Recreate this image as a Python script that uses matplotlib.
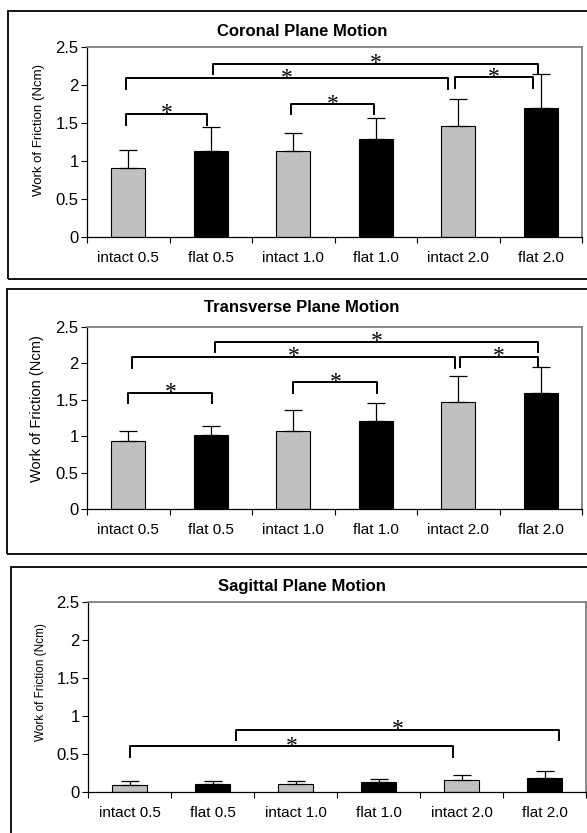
import numpy as np
import matplotlib
matplotlib.use("Agg")
import matplotlib.pyplot as plt
from matplotlib.patches import Rectangle

plt.rcParams['font.family'] = ['Liberation Sans', 'DejaVu Sans']

categories = ['intact 0.5', 'flat 0.5', 'intact 1.0', 'flat 1.0', 'intact 2.0', 'flat 2.0']
bar_colors = ['#c0c0c0', 'black', '#c0c0c0', 'black', '#c0c0c0', 'black']

coronal_mean = [0.91, 1.13, 1.13, 1.29, 1.46, 1.70]
coronal_sd = [0.24, 0.32, 0.24, 0.28, 0.35, 0.44]
transverse_mean = [0.94, 1.02, 1.07, 1.21, 1.47, 1.59]
transverse_sd = [0.135, 0.12, 0.29, 0.24, 0.36, 0.36]
sagittal_mean = [0.087, 0.105, 0.105, 0.13, 0.157, 0.19]
sagittal_sd = [0.058, 0.04, 0.04, 0.04, 0.063, 0.085]

# significance brackets: (left x, right x, bar height, leg bottom)
coronal_sig = [(-0.03, 0.96, 1.62, 1.48), (1.97, 2.98, 1.75, 1.62),
               (-0.03, 3.88, 2.09, 1.95), (3.96, 4.90, 2.10, 1.96),
               (1.03, 4.97, 2.28, 2.15)]
transverse_sig = [(0.0, 1.02, 1.60, 1.45), (2.0, 3.02, 1.74, 1.60),
                  (0.05, 3.96, 2.09, 1.94), (4.02, 4.97, 2.09, 1.95),
                  (1.05, 4.97, 2.30, 2.16)]
sagittal_sig = [(0.0, 3.90, 0.60, 0.46), (1.28, 5.18, 0.82, 0.68)]

W, H = 587, 833
fig = plt.figure(figsize=(W / 100, H / 100), dpi=100)


def box(left, top, right, bottom):
    fig.patches.append(Rectangle((left / W, 1 - bottom / H), (right - left) / W,
                                 (bottom - top) / H, transform=fig.transFigure,
                                 fill=False, ec='black', lw=1.3))


def panel(rect, title, title_y, means, sds, sig, ylab_xy, ylab_size):
    left, top, right, bottom = rect
    ax = fig.add_axes([left / W, 1 - bottom / H, (right - left) / W, (bottom - top) / H])
    x = np.arange(len(categories))
    ax.bar(x, means, width=0.41, color=bar_colors, edgecolor='black', linewidth=0.8, zorder=2)
    ax.errorbar(x, means, yerr=[np.zeros(len(x)), sds], fmt='none', ecolor='black',
                elinewidth=0.9, capsize=6.5, capthick=0.9, zorder=3)
    for xl, xr, yt, yl in sig:
        ax.plot([xl, xl, xr, xr], [yl, yt, yt, yl], color='black', lw=1.4,
                clip_on=False, zorder=4)
        ax.annotate('*', xy=((xl + xr) / 2, yt), xytext=(0, -4), textcoords='offset points',
                    ha='center', va='baseline', fontsize=17, family='Liberation Serif')
    ax.set_xlim(-0.5, 5.5)
    ax.set_ylim(0, 2.5)
    ax.set_yticks([0, 0.5, 1, 1.5, 2, 2.5])
    ax.set_yticklabels(['0', '0.5', '1', '1.5', '2', '2.5'])
    ax.set_xticks(np.arange(-0.5, 6), labels=[])
    ax.set_xticks(x, labels=categories, minor=True)
    ax.tick_params(axis='x', which='major', length=4, direction='out', width=0.8)
    ax.tick_params(axis='x', which='minor', length=0, pad=10, labelsize=11)
    ax.tick_params(axis='y', length=4, direction='out', width=0.8, pad=2, labelsize=12)
    for s in ['top', 'right']:
        ax.spines[s].set_color('#808080')
        ax.spines[s].set_linewidth(1.3)
    for s in ['left', 'bottom']:
        ax.spines[s].set_linewidth(0.9)
    fig.text(302 / W, 1 - title_y / H, title, ha='center', va='center',
             fontsize=12, fontweight='bold')
    fig.text(ylab_xy[0] / W, 1 - ylab_xy[1] / H, 'Work of Friction (Ncm)', rotation=90,
             ha='center', va='center', fontsize=ylab_size)
    return ax


box(8, 11, 620, 279)
box(7, 289, 620, 554)
box(11, 567, 620, 870)

panel((87, 47, 582, 237), 'Coronal Plane Motion', 31, coronal_mean, coronal_sd,
      coronal_sig, (39, 130), 9.5)
panel((87, 327, 582, 509), 'Transverse Plane Motion', 308, transverse_mean, transverse_sd,
      transverse_sig, (37, 409), 10.5)
panel((88, 602, 586, 792), 'Sagittal Plane Motion', 587, sagittal_mean, sagittal_sd,
      sagittal_sig, (41, 682), 8.5)

fig.savefig('out.png', dpi=100)
